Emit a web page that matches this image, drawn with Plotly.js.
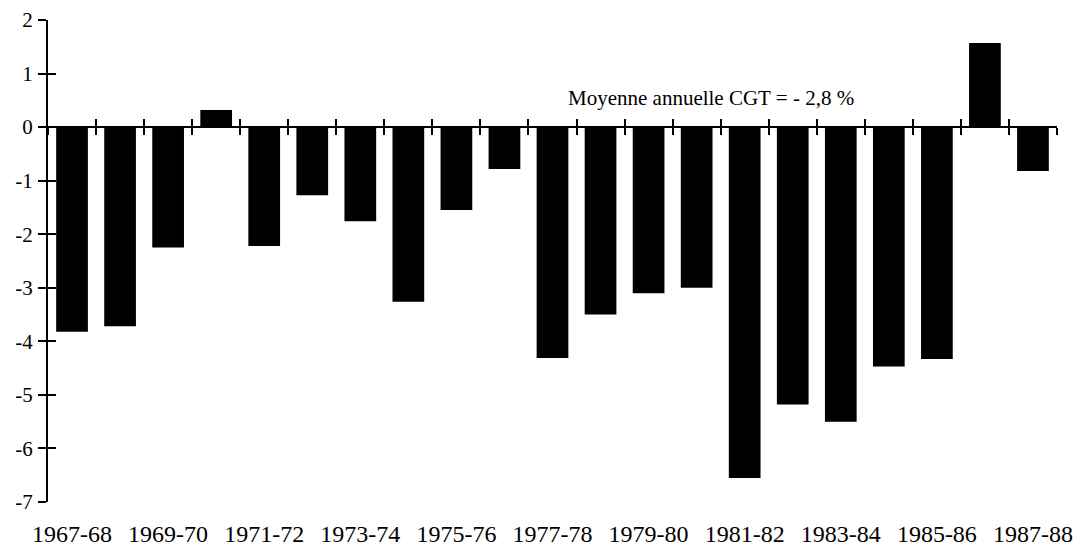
<!DOCTYPE html>
<html>
<head>
<meta charset="utf-8">
<script src="https://cdn.plot.ly/plotly-3.0.1.min.js"></script>
<style>html,body{margin:0;padding:0;background:#fff;}#chart{width:1078px;height:549px;}</style>
</head>
<body>
<div id="chart"></div>
<script>
const periods = ["1967-68","1968-69","1969-70","1970-71","1971-72","1972-73","1973-74","1974-75","1975-76","1976-77","1977-78","1978-79","1979-80","1980-81","1981-82","1982-83","1983-84","1984-85","1985-86","1986-87","1987-88"];
const values = [-3.82,-3.72,-2.25,0.32,-2.22,-1.27,-1.76,-3.26,-1.55,-0.78,-4.31,-3.50,-3.10,-3.00,-6.55,-5.18,-5.50,-4.47,-4.33,1.57,-0.82];
const tickLabels = ["1967-68","1969-70","1971-72","1973-74","1975-76","1977-78","1979-80","1981-82","1983-84","1985-86","1987-88"];
const yTicks = [2,1,0,-1,-2,-3,-4,-5,-6,-7];
const noteText = "Moyenne annuelle CGT = - 2,8 %";

const serif = "Liberation Serif, Times New Roman, serif";
const yMin = -7, yMax = 2;
const zeroPos = (0 - yMin) / (yMax - yMin);
const idx = periods.map((_, i) => i);

const bars = {
  type: "bar",
  x: periods,
  y: values,
  width: 0.66,
  marker: {color: "#000", line: {width: 0}},
  hoverinfo: "x+y"
};
// invisible carriers so that the overlay axes (cross ticks) are drawn
const ghost = (xa, ya, xs) => ({
  type: "scatter", mode: "markers", x: xs, y: values,
  xaxis: xa, yaxis: ya, marker: {opacity: 0, size: 1},
  hoverinfo: "skip", showlegend: false
});

const boundaryAxis = (dir) => ({
  type: "linear",
  overlaying: "x",
  anchor: "free",
  position: zeroPos,
  range: [-0.5, periods.length - 0.5],
  tickmode: "linear",
  tick0: 0.5,
  dtick: 1,
  ticks: dir,
  ticklen: 7,
  tickwidth: 2,
  tickcolor: "#000",
  showline: true,
  linewidth: 2,
  linecolor: "#000",
  showticklabels: false,
  showgrid: false,
  zeroline: false,
  fixedrange: true
});

const layout = {
  width: 1078,
  height: 549,
  margin: {l: 48, r: 21, t: 20, b: 47},
  paper_bgcolor: "#fff",
  plot_bgcolor: "#fff",
  showlegend: false,
  xaxis: {
    type: "category",
    categoryorder: "array",
    categoryarray: periods,
    range: [-0.5, periods.length - 0.5],
    tickmode: "array",
    tickvals: tickLabels,
    ticktext: tickLabels,
    ticks: "",
    showline: false,
    showgrid: false,
    zeroline: false,
    ticklabelstandoff: 15,
    tickfont: {family: serif, size: 24, color: "#000"}
  },
  xaxis2: boundaryAxis("outside"),
  xaxis3: boundaryAxis("inside"),
  yaxis: {
    range: [yMin, yMax],
    tickmode: "array",
    tickvals: yTicks,
    ticktext: yTicks.map(v => String(v)),
    ticks: "outside",
    ticklen: 8,
    tickwidth: 2,
    tickcolor: "#000",
    showline: true,
    linewidth: 2,
    linecolor: "#000",
    showgrid: false,
    zeroline: false,
    ticklabelstandoff: 1,
    tickfont: {family: serif, size: 21, color: "#000"}
  },
  yaxis2: {
    overlaying: "y",
    anchor: "x",
    side: "left",
    range: [yMin, yMax],
    tickmode: "array",
    tickvals: yTicks,
    ticks: "inside",
    ticklen: 8,
    tickwidth: 2,
    tickcolor: "#000",
    showticklabels: false,
    showline: false,
    showgrid: false,
    zeroline: false
  },
  annotations: [{
    x: 13.29,
    y: 0.55,
    xref: "x",
    yref: "y",
    text: noteText,
    showarrow: false,
    font: {family: serif, size: 21, color: "#000"}
  }]
};

Plotly.newPlot("chart",
  [bars, ghost("x2", "y", idx), ghost("x3", "y", idx), ghost("x", "y2", periods)],
  layout, {displayModeBar: false, staticPlot: true});
</script>
</body>
</html>
